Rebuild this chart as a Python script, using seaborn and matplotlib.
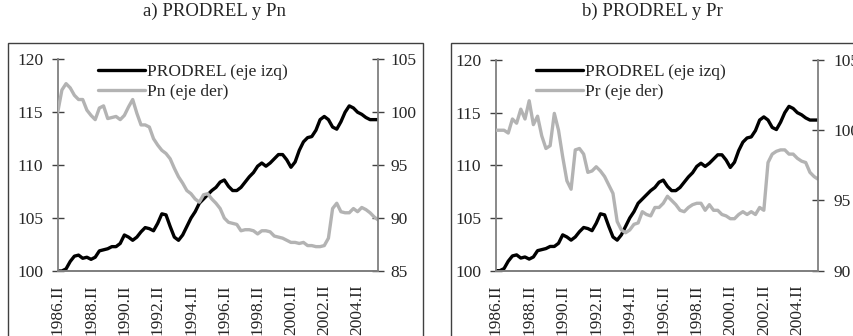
import seaborn as sns
import matplotlib.pyplot as plt
from matplotlib.patches import Rectangle

# quarterly series, 1986.II .. 2005.III
prodrel = [100.0, 100.0, 100.2, 100.9, 101.4, 101.5, 101.2, 101.3, 101.1, 101.3,
           101.9, 102.0, 102.1, 102.3, 102.3, 102.6, 103.4, 103.2, 102.9, 103.2,
           103.7, 104.1, 104.0, 103.8, 104.5, 105.4, 105.3, 104.2, 103.2, 102.9,
           103.4, 104.2, 105.0, 105.6, 106.4, 106.8, 107.2, 107.6, 107.9, 108.4,
           108.6, 108.0, 107.6, 107.6, 107.9, 108.4, 108.9, 109.3, 109.9, 110.2,
           109.9, 110.2, 110.6, 111.0, 111.0, 110.5, 109.8, 110.3, 111.4, 112.2,
           112.6, 112.7, 113.3, 114.3, 114.6, 114.3, 113.6, 113.4, 114.1, 115.0,
           115.6, 115.4, 115.0, 114.8, 114.5, 114.3, 114.3, 114.3]
pn = [100.0, 102.1, 102.7, 102.3, 101.6, 101.2, 101.2, 100.2, 99.7, 99.3,
      100.4, 100.6, 99.4, 99.5, 99.6, 99.3, 99.7, 100.5, 101.2, 99.9,
      98.8, 98.8, 98.6, 97.5, 96.9, 96.4, 96.1, 95.6, 94.7, 93.9,
      93.3, 92.6, 92.3, 91.8, 91.5, 92.2, 92.3, 91.8, 91.4, 90.9,
      90.0, 89.6, 89.5, 89.4, 88.8, 88.9, 88.9, 88.8, 88.5, 88.8,
      88.8, 88.7, 88.3, 88.2, 88.1, 87.9, 87.7, 87.7, 87.6, 87.7,
      87.4, 87.4, 87.3, 87.3, 87.4, 88.1, 90.9, 91.4, 90.6, 90.5,
      90.5, 90.9, 90.6, 91.0, 90.8, 90.5, 90.1, 89.8]
pr = [100.0, 100.0, 100.0, 99.8, 100.8, 100.5, 101.5, 100.8, 102.1, 100.4,
      101.0, 99.6, 98.7, 98.9, 101.2, 100.0, 98.1, 96.4, 95.8, 98.6,
      98.7, 98.3, 97.0, 97.1, 97.4, 97.1, 96.7, 96.1, 95.5, 93.5,
      92.9, 92.7, 92.9, 93.3, 93.4, 94.2, 94.0, 93.9, 94.5, 94.5,
      94.8, 95.3, 95.0, 94.7, 94.3, 94.2, 94.5, 94.7, 94.8, 94.8,
      94.3, 94.7, 94.3, 94.3, 94.0, 93.9, 93.7, 93.7, 94.0, 94.2,
      94.0, 94.2, 94.0, 94.5, 94.3, 97.7, 98.3, 98.5, 98.6, 98.6,
      98.3, 98.3, 98.0, 97.8, 97.7, 97.0, 96.7, 96.5]
tick_years = list(range(1986, 2006))

quarter = list(range(len(prodrel)))
tick_pos = [4 * k for k in range(len(tick_years))]
tick_lab = [f"{y}.II" if (y - 1986) % 2 == 0 else "" for y in tick_years]

sns.set_style("white")
plt.rcParams['font.family'] = ['Liberation Serif', 'DejaVu Serif']

GRAY = '#b3b3b3'
SPINE = '#808080'

fig = plt.figure(figsize=(8.54, 3.36), dpi=100)

# panel frames
fig.patches.append(Rectangle((8 / 854, -0.2), 415 / 854, 1.072, transform=fig.transFigure,
                             fill=False, ec='#404040', lw=1))
fig.patches.append(Rectangle((451 / 854, -0.2), 0.6, 1.072, transform=fig.transFigure,
                             fill=False, ec='#404040', lw=1))


def panel(rect, series, name, ylim2, rpad, title, tx):
    ax = fig.add_axes(rect)
    ax.patch.set_alpha(0)
    sns.lineplot(x=quarter, y=prodrel, ax=ax, color='black', lw=2.4,
                 label='PRODREL (eje izq)', legend=False)
    ax.set_xlim(0, 77)
    ax.set_ylim(100, 120)
    ax.set_yticks([100, 105, 110, 115, 120])
    ax.set_xticks(tick_pos)
    ax.set_xticklabels(tick_lab, rotation=90)
    ax.tick_params(axis='y', direction='inout', length=8, width=1, color='#404040',
                   labelsize=12.5, pad=6.5)
    ax.tick_params(axis='x', direction='out', length=5.5, width=1, color='#404040',
                   labelsize=12.5, pad=4)

    tw = ax.twinx()
    sns.lineplot(x=quarter, y=series, ax=tw, color=GRAY, lw=2.4,
                 label=f'{name} (eje der)', legend=False)
    tw.set_ylim(*ylim2)
    tw.set_yticks(range(ylim2[0], ylim2[1] + 1, 5))
    tw.tick_params(axis='y', direction='inout', length=8, width=1, color='#404040',
                   labelsize=12.5, pad=rpad)

    for a in (ax, tw):
        a.spines['top'].set_visible(False)
        for s in ('left', 'right', 'bottom'):
            a.spines[s].set_color(SPINE)
            a.spines[s].set_linewidth(1.3)
    tw.spines['left'].set_visible(False)
    ax.spines['right'].set_visible(False)

    tw.legend(handles=[ax.lines[0], tw.lines[0]], loc='upper left',
              bbox_to_anchor=(0.126, 0.98), frameon=False, fontsize=12.5,
              handlelength=2.7, handletextpad=0.1, labelspacing=0.22,
              borderpad=0, borderaxespad=0)

    fig.text(tx, 1 - 11.5 / 336, title, ha='center', va='center', fontsize=13.5)


panel([0.0676, 0.1935, 0.3755, 0.63], pn, 'Pn', (85, 105), 4.5,
      'a) PRODREL y Pn', 215 / 854)
panel([0.5804, 0.1944, 0.3778, 0.627], pr, 'Pr', (90, 105), 7,
      'b) PRODREL y Pr', 652 / 854)

fig.savefig('out.png', dpi=100)
